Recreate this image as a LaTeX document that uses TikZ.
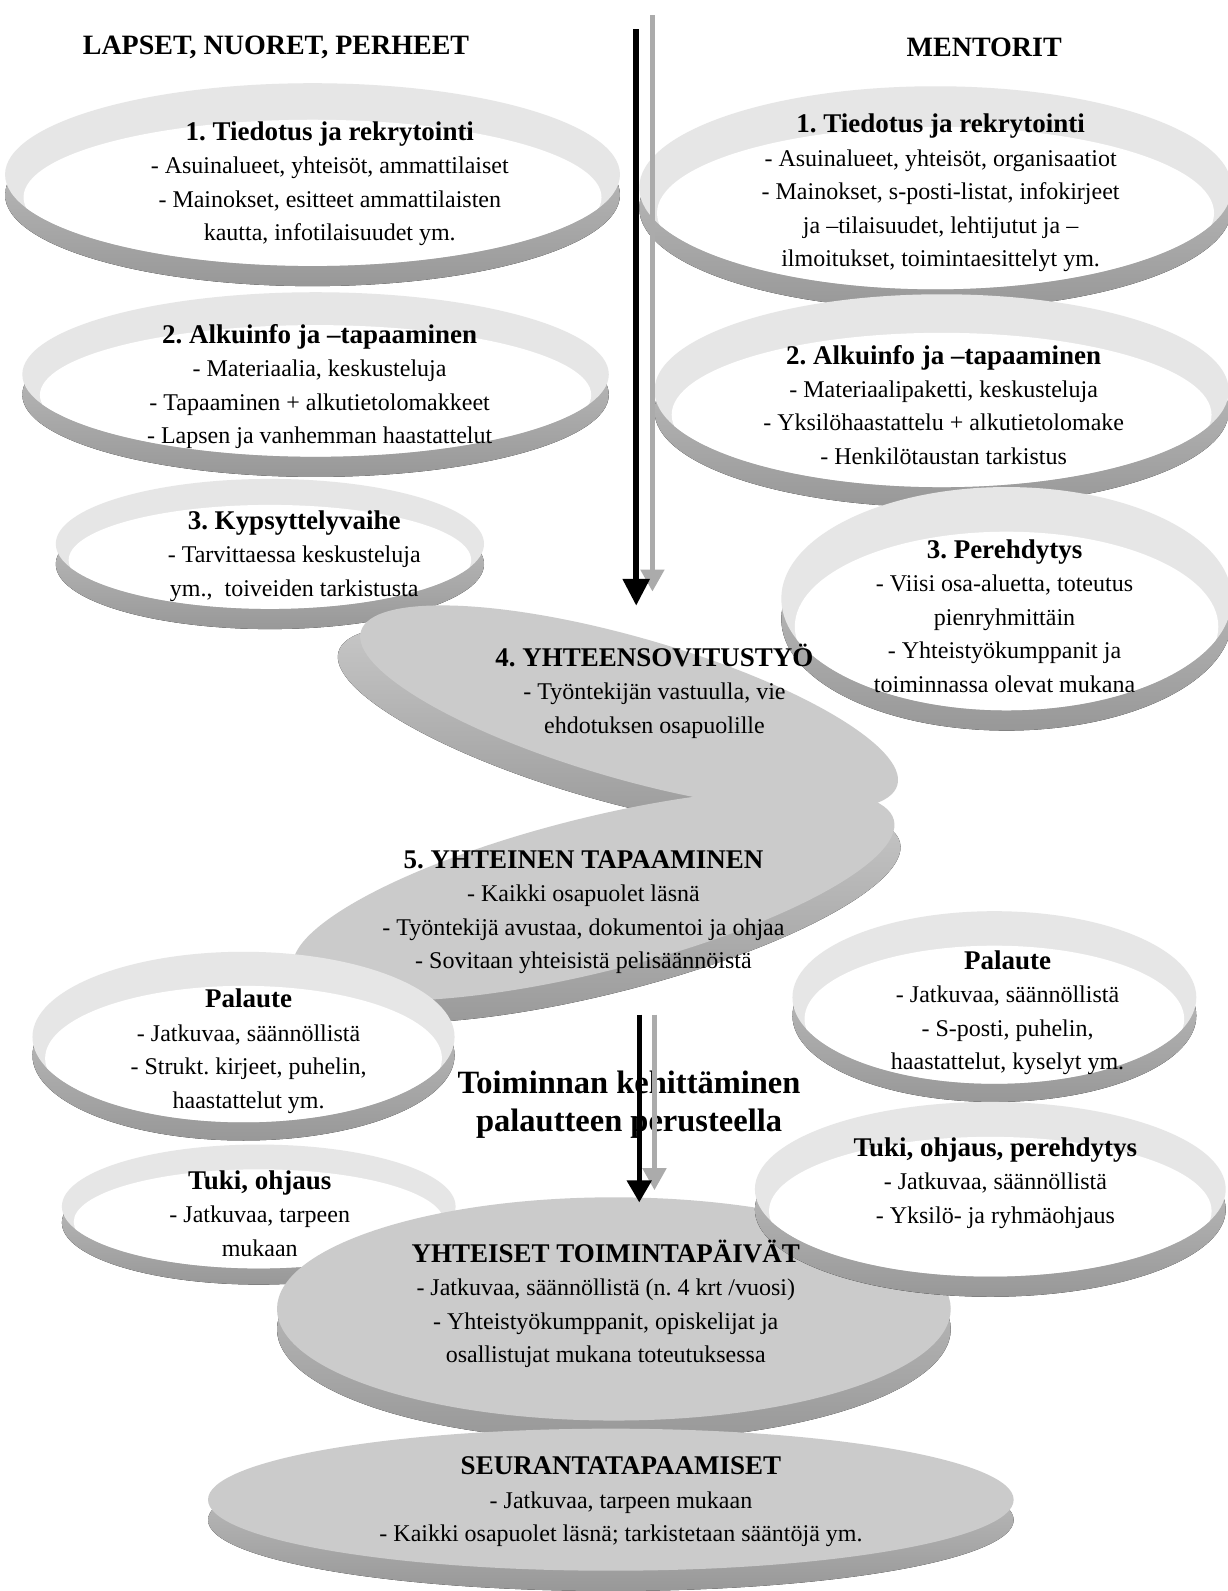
\documentclass[tikz,border=0pt]{standalone}
\usepackage{fontspec}
\setmainfont{Liberation Serif}
\usetikzlibrary{arrows.meta}
\frenchspacing
\definecolor{rimcol}{HTML}{E6E6E6}
\definecolor{sidedark}{HTML}{989898}
\definecolor{sidelight}{HTML}{C8C8C8}
\definecolor{faceg}{HTML}{CBCBCB}
\definecolor{arrowg}{HTML}{ABABAB}
\newcommand{\bowl}[5]{%
  \fill[top color=sidelight, bottom color=sidedark] ({#1},{#2+#5}) ellipse ({#3} and {#4});
  \fill[rimcol] ({#1},{#2}) ellipse ({#3} and {#4});
  \begin{scope}
    \clip ({#1},{#2}) ellipse ({#3} and {#4});
    \fill[white] ({#1},{#2+0.25*#4}) ellipse ({0.94*#3} and {0.85*#4});
  \end{scope}
}
\newcommand{\disc}[7]{%
  \fill[top color=sidelight, bottom color=sidedark, rotate around={#5:({#1+#6},{#2+#7})}] ({#1+#6},{#2+#7}) ellipse ({#3} and {#4});
  \fill[faceg, rotate around={#5:({#1},{#2})}] ({#1},{#2}) ellipse ({#3} and {#4});
}
\newcommand{\ttl}[1]{{\fontsize{27}{33.5}\selectfont\bfseries #1}}
\tikzset{
  txt/.style={align=center, inner sep=0pt, font=\fontsize{24}{33.5}\selectfont\frenchspacing},
  hdr/.style={inner sep=0pt, font=\fontsize{28}{30}\selectfont\bfseries},
  mid/.style={align=center, inner sep=0pt, font=\fontsize{32.5}{38}\selectfont\bfseries},
  blackarrow/.style={line width=6pt, -{Triangle[width=26pt,length=27pt]}},
  grayarrow/.style={arrowg, line width=5pt, -{Triangle[width=23pt,length=22pt]}}
}
\begin{document}
\begin{tikzpicture}[x=1.0149pt, y=-1.0149pt]
\useasboundingbox (0,0) rectangle (1210,1568);
\fill[white] (0,0) rectangle (1210,1568);

% upper bowls
\bowl{308}{172}{303}{90}{20}
\bowl{922}{185}{292}{100}{20}
\bowl{311}{369}{289}{81}{20}
\bowl{928}{385}{283}{95}{20}
\bowl{266}{536}{211}{64}{20}
\bowl{992}{590}{222}{110}{20}

% top arrows
\coordinate (t1s) at (627,29);
\coordinate (t1e) at (627,597);
\coordinate (t2s) at (643,15);
\coordinate (t2e) at (643,583);
\draw[grayarrow] (t2s) -- (t2e);
\draw[blackarrow] (t1s) -- (t1e);

% central discs
\disc{620}{698}{275}{70}{-16}{-22}{20}
\disc{585}{882}{305}{76}{14}{6}{22}

% lower bowls
\bowl{240}{1022}{208}{84}{18}
\bowl{255}{1189}{194}{61}{16}
\disc{605}{1290}{332}{110}{0}{0}{20}
\bowl{980}{983}{199}{85}{18}
\bowl{976}{1172}{232}{86}{20}
\disc{602}{1478}{397}{70}{0}{0}{20}

% headers
\node[hdr] (h1) at (272,47) {LAPSET, NUORET, PERHEET};
\node[hdr] (h2) at (970,47) {MENTORIT};

% texts
\node[txt] (tL1) at (325,181) {\ttl{1. Tiedotus ja rekrytointi}\\- Asuinalueet, yhteisöt, ammattilaiset\\- Mainokset, esitteet ammattilaisten\\kautta, infotilaisuudet ym.};
\node[txt] (tR1) at (927,190) {\ttl{1. Tiedotus ja rekrytointi}\\- Asuinalueet, yhteisöt, organisaatiot\\- Mainokset, s-posti-listat, infokirjeet\\ja –tilaisuudet, lehtijutut ja –\\ilmoitukset, toimintaesittelyt ym.};
\node[txt] (tL2) at (315,381) {\ttl{2. Alkuinfo ja –tapaaminen}\\- Materiaalia, keskusteluja\\- Tapaaminen + alkutietolomakkeet\\- Lapsen ja vanhemman haastattelut};
\node[txt] (tR2) at (930,399) {\ttl{2. Alkuinfo ja –tapaaminen}\\- Materiaalipaketti, keskusteluja\\- Yksilöhaastattelu + alkutietolomake\\- Henkilötaustan tarkistus};
\node[txt] (tL3) at (290,548) {\ttl{3. Kypsyttelyvaihe}\\- Tarvittaessa keskusteluja\\ym.,\ \ toiveiden tarkistusta};
\node[txt] (tR3) at (990,607) {\ttl{3. Perehdytys}\\- Viisi osa-aluetta, toteutus\\pienryhmittäin\\- Yhteistyökumppanit ja\\toiminnassa olevat mukana};
\node[txt] (tC4) at (645,681) {\ttl{4. YHTEENSOVITUSTYÖ}\\- Työntekijän vastuulla, vie\\ehdotuksen osapuolille};
\node[txt] (tC5) at (575,899) {\ttl{5. YHTEINEN TAPAAMINEN}\\- Kaikki osapuolet läsnä\\- Työntekijä avustaa, dokumentoi ja ohjaa\\- Sovitaan yhteisistä pelisäännöistä};
\node[txt] (tR4) at (993,998) {\ttl{Palaute}\\- Jatkuvaa, säännöllistä\\- S-posti, puhelin,\\haastattelut, kyselyt ym.};
\node[txt] (tL4) at (245,1036) {\ttl{Palaute}\\- Jatkuvaa, säännöllistä\\- Strukt. kirjeet, puhelin,\\haastattelut ym.};
\node[txt] (tL5) at (256,1196) {\ttl{Tuki, ohjaus}\\- Jatkuvaa, tarpeen\\mukaan};
\node[txt] (tR5) at (981,1166) {\ttl{Tuki, ohjaus, perehdytys}\\- Jatkuvaa, säännöllistä\\- Yksilö- ja ryhmäohjaus};
\node[txt] (tC6) at (597,1285) {\ttl{YHTEISET TOIMINTAPÄIVÄT}\\- Jatkuvaa, säännöllistä (n. 4 krt /vuosi)\\- Yhteistyökumppanit, opiskelijat ja\\osallistujat mukana toteutuksessa};
\node[txt] (tC7) at (612,1480) {\ttl{SEURANTATAPAAMISET}\\- Jatkuvaa, tarpeen mukaan\\- Kaikki osapuolet läsnä; tarkistetaan sääntöjä ym.};
\node[mid] (mtxt) at (620,1089) {Toiminnan kehittäminen\\palautteen perusteella};

% middle arrows
\coordinate (m1s) at (630,1000);
\coordinate (m1e) at (630,1185);
\coordinate (m2s) at (645,1000);
\coordinate (m2e) at (645,1173);
\draw[grayarrow] (m2s) -- (m2e);
\draw[blackarrow, line width=5pt, -{Triangle[width=24pt,length=22pt]}] (m1s) -- (m1e);
\end{tikzpicture}
\end{document}
